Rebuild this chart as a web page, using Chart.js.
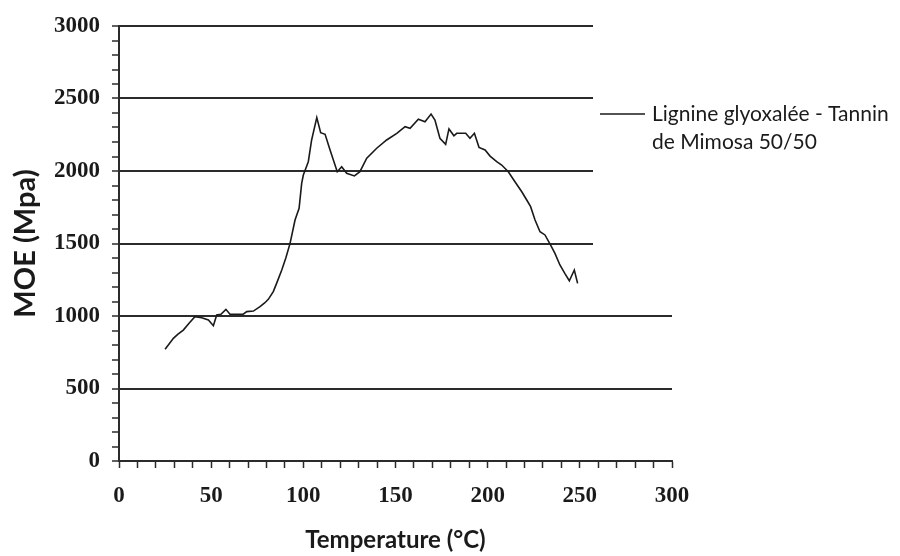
<!DOCTYPE html>
<html>
<head>
<meta charset="utf-8">
<script src="https://cdn.jsdelivr.net/npm/chart.js@4/dist/chart.umd.min.js"></script>
<style>
  html, body { margin: 0; padding: 0; background: #ffffff; }
  canvas { display: block; }
</style>
</head>
<body>
<canvas id="c" width="900" height="556"></canvas>
<script>
// ---- Data ----
const temperature = [
  25, 29.5, 32, 34.9, 38, 41.2, 44.9, 48.5, 51.2, 53, 55.3, 58, 60.2, 64, 67.4, 69.3,
  72.9, 76.5, 79, 81, 83.7, 85.5, 88.3, 90.5, 92.8, 95.5, 97.7, 99.1, 100, 102.7,
  104.5, 107.3, 109.4, 111.8, 114.5, 118.4, 120.8, 123.5, 127.7, 130.7, 134.4,
  139.8, 145.2, 150.7, 155.2, 157.9, 162.4, 166, 169.3, 171.4, 174.1, 177.2, 179,
  181.7, 183.2, 188.1, 190.4, 192.8, 195.3, 198.6, 201.3, 204.9, 207.6, 211.2,
  214.8, 218.5, 221.2, 223.3, 225.7, 228.4, 231.1, 233.8, 236.5, 239.2, 242,
  244.3, 247, 248.8
];
const moe = [
  770, 846, 875, 903, 950, 995, 988, 972, 933, 1007, 1012, 1046, 1012, 1012, 1012, 1030,
  1034, 1064, 1090, 1115, 1168, 1225, 1317, 1400, 1501, 1662, 1743, 1915, 1972, 2064,
  2214, 2368, 2264, 2253, 2145, 1995, 2030, 1984, 1966, 1995, 2088,
  2157, 2214, 2260, 2306, 2295, 2357, 2340, 2393, 2352, 2226, 2184, 2290,
  2243, 2260, 2260, 2226, 2260, 2163, 2145, 2103, 2064, 2041, 1995,
  1926, 1857, 1800, 1754, 1662, 1581, 1559, 1497, 1432, 1352, 1290,
  1243, 1317, 1225
];
const xTickLabels = [0, 50, 100, 150, 200, 250, 300];
const yTickLabels = [0, 500, 1000, 1500, 2000, 2500, 3000];
const seriesName = ["Lignine glyoxalée - Tannin", "de Mimosa 50/50"];
const xTitle = "Temperature (°C)";
const yTitle = "MOE (Mpa)";

const points = temperature.map((t, i) => ({ x: t, y: moe[i] }));
const AXIS = '#2b2b2b';

const legendBox = {
  id: 'legendBox',
  beforeDatasetsDraw(chart) {
    const ctx = chart.ctx;
    ctx.save();
    ctx.fillStyle = '#ffffff';
    ctx.fillRect(593, 0, 307, 275);
    ctx.restore();
  },
  afterDraw(chart) {
    const ctx = chart.ctx;
    ctx.save();
    ctx.strokeStyle = '#1a1a1a';
    ctx.lineWidth = 1.5;
    ctx.beginPath();
    ctx.moveTo(600, 114);
    ctx.lineTo(645, 114);
    ctx.stroke();
    ctx.fillStyle = '#1a1a1a';
    ctx.font = '21px Lato';
    ctx.textBaseline = 'middle';
    ctx.textAlign = 'left';
    ctx.fillText(seriesName[0], 652, 114);
    ctx.fillText(seriesName[1], 652, 142);
    ctx.restore();
  }
};

new Chart(document.getElementById('c'), {
  type: 'scatter',
  data: {
    datasets: [{
      label: seriesName.join(' '),
      data: points,
      showLine: true,
      borderColor: '#1a1a1a',
      borderWidth: 1.6,
      pointRadius: 0,
      tension: 0,
      fill: false
    }]
  },
  options: {
    responsive: false,
    animation: false,
    devicePixelRatio: 1,
    layout: { padding: { left: 0, top: 26, right: 228, bottom: 0 } },
    plugins: {
      legend: { display: false },
      tooltip: { enabled: false },
      title: { display: false }
    },
    scales: {
      x: {
        type: 'linear',
        min: 0, max: 300,
        afterFit(scale) { scale.height = 95; },
        border: { display: true, color: AXIS, width: 2 },
        grid: { drawOnChartArea: false, tickColor: AXIS, tickLength: 7, tickWidth: 1.5 },
        ticks: {
          stepSize: 10,
          autoSkip: false,
          maxRotation: 0,
          padding: 14,
          color: '#1a1a1a',
          font: { family: '"Liberation Serif", "Times New Roman", serif', weight: 'bold', size: 23 },
          callback: (v) => xTickLabels.includes(v) ? String(v) : ''
        },
        title: {
          display: true,
          text: xTitle,
          color: '#1a1a1a',
          font: { family: 'Lato', weight: 'bold', size: 24 },
          padding: { top: 0, bottom: 1 }
        }
      },
      y: {
        min: 0, max: 3000,
        afterFit(scale) { scale.width = 119; },
        border: { display: true, color: AXIS, width: 2 },
        grid: {
          color: (c) => (c.tick && yTickLabels.includes(c.tick.value)) ? AXIS : 'rgba(0,0,0,0)',
          lineWidth: 2,
          tickColor: AXIS,
          tickLength: 7,
          tickWidth: 1.5
        },
        ticks: {
          stepSize: 100,
          autoSkip: false,
          padding: 12,
          color: '#1a1a1a',
          font: { family: '"Liberation Serif", "Times New Roman", serif', weight: 'bold', size: 23 },
          callback: (v) => yTickLabels.includes(v) ? String(v) : ''
        },
        title: {
          display: true,
          text: yTitle,
          color: '#1a1a1a',
          font: { family: 'Lato', weight: 'bold', size: 29 },
          padding: { top: 8, bottom: 0 }
        }
      }
    }
  },
  plugins: [legendBox]
});
</script>
</body>
</html>
